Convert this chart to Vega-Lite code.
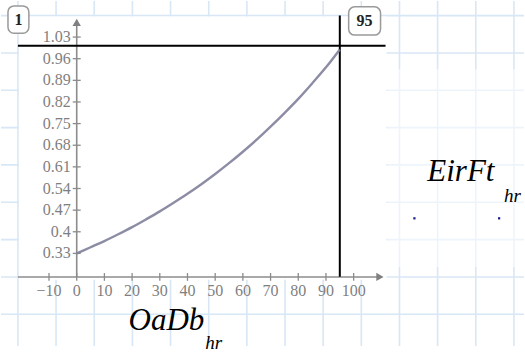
{
  "$schema": "https://vega.github.io/schema/vega-lite/v6.json",
  "width": 525,
  "height": 354,
  "autosize": {"type": "fit", "contains": "padding"},
  "padding": 0,
  "background": "white",
  "config": {"view": {"stroke": null}},
  "layer": [
    {
      "data": {"values": [{"x": -21.22}, {"x": -7.45}, {"x": 6.33}, {"x": 20.11}, {"x": 33.88}, {"x": 47.66}, {"x": 61.44}, {"x": 75.22}, {"x": 88.99}, {"x": 102.77}, {"x": 116.55}, {"x": 130.32}, {"x": 144.1}, {"x": 157.88}]},
      "mark": {"type": "rule", "color": "#d8e7f6", "strokeWidth": 1.6},
      "encoding": {
        "x": {"field": "x", "type": "quantitative", "axis": null, "scale": {"domain": [-27.338, 161.51], "nice": false, "zero": false}}
      }
    },
    {
      "data": {"values": [{"y": 1.0994}, {"y": 0.9786}, {"y": 0.8578}, {"y": 0.7371}, {"y": 0.6163}, {"y": 0.4955}, {"y": 0.3747}, {"y": 0.2539}, {"y": 0.1331}]},
      "mark": {"type": "rule", "color": "#d8e7f6", "strokeWidth": 1.6},
      "encoding": {
        "y": {"field": "y", "type": "quantitative", "axis": null, "scale": {"domain": [0.0304, 1.1467], "nice": false, "zero": false}}
      }
    },
    {
      "data": {"values": [{"x": -20.86, "x2": 111.87, "y": 1.0962, "y2": 0.2448}]},
      "mark": {"type": "rect", "fill": "white", "opacity": 1},
      "encoding": {
        "x": {"field": "x", "type": "quantitative", "axis": null, "scale": {"domain": [-27.338, 161.51], "nice": false, "zero": false}},
        "x2": {"field": "x2"},
        "y": {"field": "y", "type": "quantitative", "axis": null, "scale": {"domain": [0.0304, 1.1467], "nice": false, "zero": false}},
        "y2": {"field": "y2"}
      }
    },
    {
      "data": {"values": [{"x": 112.23, "x2": 161.6, "y": 0.926, "y2": 0.2858}]},
      "mark": {"type": "rect", "fill": "white", "opacity": 0.55},
      "encoding": {
        "x": {"field": "x", "type": "quantitative", "axis": null, "scale": {"domain": [-27.338, 161.51], "nice": false, "zero": false}},
        "x2": {"field": "x2"},
        "y": {"field": "y", "type": "quantitative", "axis": null, "scale": {"domain": [0.0304, 1.1467], "nice": false, "zero": false}},
        "y2": {"field": "y2"}
      }
    },
    {
      "data": {"values": [{"x": 0, "x2": 0, "y": 1.08, "y2": 0.2539}, {"x": -21.22, "x2": 108.5, "y": 0.2539, "y2": 0.2539}]},
      "mark": {"type": "rule", "color": "#8c8c8c", "strokeWidth": 1.6},
      "encoding": {
        "x": {"field": "x", "type": "quantitative", "axis": null, "scale": {"domain": [-27.338, 161.51], "nice": false, "zero": false}},
        "x2": {"field": "x2"},
        "y": {"field": "y", "type": "quantitative", "axis": null, "scale": {"domain": [0.0304, 1.1467], "nice": false, "zero": false}},
        "y2": {"field": "y2"}
      }
    },
    {
      "data": {"values": [{"x": -10, "label": "−10"}, {"x": 0, "label": "0"}, {"x": 10, "label": "10"}, {"x": 20, "label": "20"}, {"x": 30, "label": "30"}, {"x": 40, "label": "40"}, {"x": 50, "label": "50"}, {"x": 60, "label": "60"}, {"x": 70, "label": "70"}, {"x": 80, "label": "80"}, {"x": 90, "label": "90"}, {"x": 100, "label": "100"}]},
      "layer": [
        {
          "mark": {"type": "rule", "color": "#8c8c8c", "strokeWidth": 1.3},
          "encoding": {
            "x": {"field": "x", "type": "quantitative", "axis": null, "scale": {"domain": [-27.338, 161.51], "nice": false, "zero": false}},
            "y": {"datum": 0.2413, "type": "quantitative", "axis": null, "scale": {"domain": [0.0304, 1.1467], "nice": false, "zero": false}},
            "y2": {"datum": 0.2665}
          }
        },
        {
          "mark": {"type": "text", "font": "Liberation Serif", "fontSize": 16, "color": "#7f7f7f", "align": "center", "baseline": "middle"},
          "encoding": {
            "x": {"field": "x", "type": "quantitative", "axis": null, "scale": {"domain": [-27.338, 161.51], "nice": false, "zero": false}},
            "y": {"datum": 0.2069, "type": "quantitative", "axis": null, "scale": {"domain": [0.0304, 1.1467], "nice": false, "zero": false}},
            "text": {"field": "label"}
          }
        }
      ]
    },
    {
      "data": {"values": [{"y": 0.33, "label": "0.33"}, {"y": 0.4, "label": "0.4"}, {"y": 0.47, "label": "0.47"}, {"y": 0.54, "label": "0.54"}, {"y": 0.61, "label": "0.61"}, {"y": 0.68, "label": "0.68"}, {"y": 0.75, "label": "0.75"}, {"y": 0.82, "label": "0.82"}, {"y": 0.89, "label": "0.89"}, {"y": 0.96, "label": "0.96"}, {"y": 1.03, "label": "1.03"}]},
      "layer": [
        {
          "mark": {"type": "rule", "color": "#8c8c8c", "strokeWidth": 1.3},
          "encoding": {
            "y": {"field": "y", "type": "quantitative", "axis": null, "scale": {"domain": [0.0304, 1.1467], "nice": false, "zero": false}},
            "x": {"datum": -1.44, "type": "quantitative", "axis": null, "scale": {"domain": [-27.338, 161.51], "nice": false, "zero": false}},
            "x2": {"datum": 1.44}
          }
        },
        {
          "mark": {"type": "text", "font": "Liberation Serif", "fontSize": 16, "color": "#7f7f7f", "align": "right", "baseline": "middle"},
          "encoding": {
            "y": {"field": "y", "type": "quantitative", "axis": null, "scale": {"domain": [0.0304, 1.1467], "nice": false, "zero": false}},
            "x": {"datum": -2.16, "type": "quantitative", "axis": null, "scale": {"domain": [-27.338, 161.51], "nice": false, "zero": false}},
            "text": {"field": "label"}
          }
        }
      ]
    },
    {
      "data": {"values": [{"x": -21.22, "x2": 111.51, "y": 1.0016, "y2": 1.0016}, {"x": 95, "x2": 95, "y": 1.0994, "y2": 0.2542}]},
      "mark": {"type": "rule", "color": "black", "strokeWidth": 2},
      "encoding": {
        "x": {"field": "x", "type": "quantitative", "axis": null, "scale": {"domain": [-27.338, 161.51], "nice": false, "zero": false}},
        "x2": {"field": "x2"},
        "y": {"field": "y", "type": "quantitative", "axis": null, "scale": {"domain": [0.0304, 1.1467], "nice": false, "zero": false}},
        "y2": {"field": "y2"}
      }
    },
    {
      "data": {"values": [
        {"x": 0, "y": 0.33}, {"x": 5, "y": 0.35}, {"x": 10, "y": 0.37}, {"x": 15, "y": 0.392}, {"x": 20, "y": 0.415},
        {"x": 25, "y": 0.44}, {"x": 30, "y": 0.466}, {"x": 35, "y": 0.494}, {"x": 40, "y": 0.523}, {"x": 45, "y": 0.554},
        {"x": 50, "y": 0.587}, {"x": 55, "y": 0.622}, {"x": 60, "y": 0.659}, {"x": 65, "y": 0.698}, {"x": 70, "y": 0.74},
        {"x": 75, "y": 0.784}, {"x": 80, "y": 0.83}, {"x": 85, "y": 0.88}, {"x": 90, "y": 0.932}, {"x": 95, "y": 0.99}
      ]},
      "mark": {"type": "line", "color": "#80809a", "strokeWidth": 2.4, "opacity": 0.9, "interpolate": "monotone"},
      "encoding": {
        "x": {"field": "x", "type": "quantitative", "axis": null, "scale": {"domain": [-27.338, 161.51], "nice": false, "zero": false}},
        "y": {"field": "y", "type": "quantitative", "axis": null, "scale": {"domain": [0.0304, 1.1467], "nice": false, "zero": false}}
      }
    },
    {
      "data": {"values": [{"x": 0, "y": 1.0773, "shape": "triangle-up"}, {"x": 109.5, "y": 0.2539, "shape": "triangle-right"}]},
      "mark": {"type": "point", "filled": true, "color": "#808080", "size": 70, "opacity": 1},
      "encoding": {
        "x": {"field": "x", "type": "quantitative", "axis": null, "scale": {"domain": [-27.338, 161.51], "nice": false, "zero": false}},
        "y": {"field": "y", "type": "quantitative", "axis": null, "scale": {"domain": [0.0304, 1.1467], "nice": false, "zero": false}},
        "shape": {"field": "shape", "type": "nominal", "scale": null}
      }
    },
    {
      "data": {"values": [{"x": -24.82, "x2": -17.27, "y": 1.1309, "y2": 1.0426}, {"x": 98.2, "x2": 109.71, "y": 1.1278, "y2": 1.0363}]},
      "mark": {"type": "rect", "fill": "white", "stroke": "#9a9a9a", "strokeWidth": 1.5, "cornerRadius": 6},
      "encoding": {
        "x": {"field": "x", "type": "quantitative", "axis": null, "scale": {"domain": [-27.338, 161.51], "nice": false, "zero": false}},
        "x2": {"field": "x2"},
        "y": {"field": "y", "type": "quantitative", "axis": null, "scale": {"domain": [0.0304, 1.1467], "nice": false, "zero": false}},
        "y2": {"field": "y2"}
      }
    },
    {
      "data": {"values": [{"x": -21.04, "y": 1.0868, "label": "1"}, {"x": 103.96, "y": 1.0821, "label": "95"}]},
      "mark": {"type": "text", "font": "Liberation Serif", "fontSize": 16, "fontWeight": "bold", "color": "#222222", "align": "center", "baseline": "middle"},
      "encoding": {
        "x": {"field": "x", "type": "quantitative", "axis": null, "scale": {"domain": [-27.338, 161.51], "nice": false, "zero": false}},
        "y": {"field": "y", "type": "quantitative", "axis": null, "scale": {"domain": [0.0304, 1.1467], "nice": false, "zero": false}},
        "text": {"field": "label"}
      }
    },
    {
      "data": {"values": [{"x": 18.71, "y": 0.0808, "label": "OaDb", "s": 31}, {"x": 126.6, "y": 0.5633, "label": "EirFt", "s": 31}, {"x": 46.4, "y": 0.0209, "label": "hr", "s": 19}, {"x": 154.3, "y": 0.4971, "label": "hr", "s": 19}]},
      "mark": {"type": "text", "font": "Liberation Serif", "fontStyle": "italic", "color": "black", "align": "left", "baseline": "alphabetic"},
      "encoding": {
        "x": {"field": "x", "type": "quantitative", "axis": null, "scale": {"domain": [-27.338, 161.51], "nice": false, "zero": false}},
        "y": {"field": "y", "type": "quantitative", "axis": null, "scale": {"domain": [0.0304, 1.1467], "nice": false, "zero": false}},
        "text": {"field": "label"},
        "size": {"field": "s", "type": "quantitative", "scale": null}
      }
    },
    {
      "data": {"values": [{"x": 121.94, "y": 0.4435}, {"x": 152.52, "y": 0.4435}]},
      "mark": {"type": "point", "filled": true, "shape": "square", "color": "#1c1c8c", "size": 5, "opacity": 1},
      "encoding": {
        "x": {"field": "x", "type": "quantitative", "axis": null, "scale": {"domain": [-27.338, 161.51], "nice": false, "zero": false}},
        "y": {"field": "y", "type": "quantitative", "axis": null, "scale": {"domain": [0.0304, 1.1467], "nice": false, "zero": false}}
      }
    }
  ]
}
